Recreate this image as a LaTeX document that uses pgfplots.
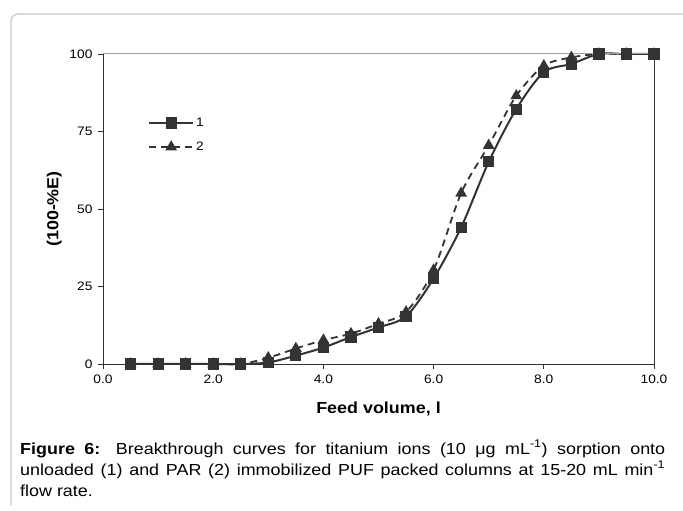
\documentclass[border=0pt]{standalone}
\usepackage{fontspec}
\setmainfont[FakeStretch=1.12]{Liberation Sans}
\usepackage{pgfplots}
\pgfplotsset{compat=1.18}
\definecolor{dk}{HTML}{333333}
\definecolor{frame}{HTML}{C8C8C8}
\begin{document}
\begin{tikzpicture}
\useasboundingbox (0pt,0pt) rectangle (683pt,511pt);
\draw[frame, line width=1.3pt, rounded corners=7pt] (11pt,6pt) -- (11pt,497pt) -- (690pt,497pt);
\begin{axis}[
  at={(103pt,147pt)}, anchor=south west,
  scale only axis, width=551pt, height=310pt,
  xmin=0, xmax=10, ymin=0, ymax=100,
  axis lines*=left,
  axis line style={-, dk, line width=0.9pt},
  tick align=outside, tick pos=left,
  major tick length=5pt,
  every tick/.style={dk, line width=0.9pt},
  xtick={0,2,...,10}, ytick={0,25,50,75,100},
  /pgf/number format/assume math mode=true,
  ticklabel style={font=\fontsize{12.3}{14}\selectfont, text=black},
  xticklabel style={yshift=-2pt, /pgf/number format/.cd, fixed, fixed zerofill, precision=1},
  yticklabel style={xshift=-2pt},
  xlabel={\textbf{Feed volume, l}},
  ylabel={\textbf{(100-\%E)}},
  label style={font=\fontsize{16}{19}\selectfont},
  xlabel style={yshift=-12pt},
  ylabel style={yshift=1pt},
  legend style={at={(0.082,0.80)}, anchor=north west, draw=none, fill=none,
    inner sep=0pt, outer sep=0pt, font=\fontsize{12.3}{14}\selectfont,
    row sep=10pt, cells={anchor=west}},
  legend image code/.code={\draw[mark repeat=2, mark phase=2, #1] plot coordinates {(0pt,0pt) (22pt,0pt) (44pt,0pt)};},
  clip=false,
]
\addplot[dk, line width=2pt, smooth, tension=0.5, mark=square*, mark size=4.6pt, mark options={solid, fill=dk}]
 coordinates {(0.5,0) (1.0,0) (1.5,0) (2.0,0) (2.5,0) (3.0,0.5) (3.5,2.7) (4.0,5.3) (4.5,8.7) (5.0,11.8) (5.5,15.4) (6.0,27.6) (6.5,44.1) (7.0,65.2) (7.5,82.2) (8.0,94.1) (8.5,96.8) (9.0,100) (9.5,100) (10.0,100)};
\addlegendentry{1}
\addplot[dk, line width=1.8pt, dash pattern=on 7pt off 5pt, smooth, tension=0.5, mark=triangle*, mark size=5pt, mark options={solid, fill=dk}]
 coordinates {(0.5,0) (1.0,0) (1.5,0) (2.0,0) (2.5,0) (3.0,2.0) (3.5,5.0) (4.0,7.7) (4.5,9.8) (5.0,13.0) (5.5,16.8) (6.0,30.3) (6.5,55.1) (7.0,70.5) (7.5,86.5) (8.0,96.2) (8.5,98.9) (9.0,100) (9.5,100) (10.0,100)};
\addlegendentry{2}
\draw[dk, line width=0.9pt] (rel axis cs:1,0) -- (rel axis cs:1,1);
\draw[gray!75, line width=1pt] (rel axis cs:0,1) -- (rel axis cs:1,1);
\end{axis}
\node[anchor=north west, inner sep=0pt, text width=645pt, align=justify,
  font=\fontsize{16}{21}\selectfont] at (20pt,71pt)
 {\textbf{Figure 6:} Breakthrough curves for titanium ions (10 μg mL\textsuperscript{-1}) sorption onto\linebreak unloaded (1) and PAR (2) immobilized PUF packed columns at 15-20 mL min\textsuperscript{-1}\linebreak flow rate.};
\end{tikzpicture}
\end{document}
